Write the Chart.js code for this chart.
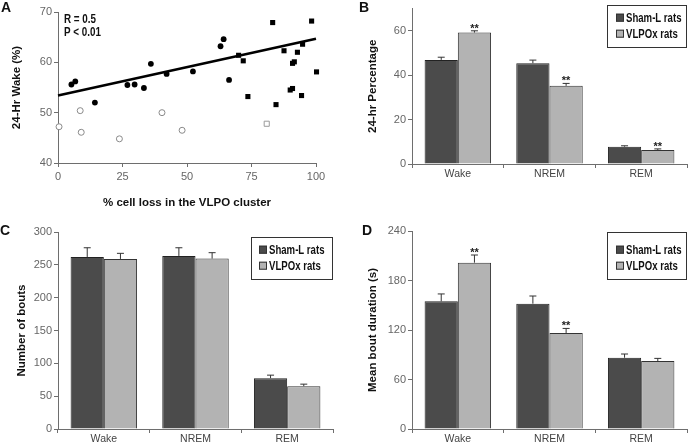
<!DOCTYPE html>
<html>
<head>
<meta charset="utf-8">
<script src="https://cdn.jsdelivr.net/npm/chart.js@4.4.1/dist/chart.umd.min.js"></script>
<style>
body { margin: 0; background: #fff; width: 689px; height: 444px; position: relative; overflow: hidden; }
canvas { position: absolute; }
.letter { position: absolute; font: bold 14px 'Liberation Sans', Arial, sans-serif; color: #111; }
</style>
</head>
<body>
<canvas id="chartA" width="345" height="215" style="left:0;top:0"></canvas>
<canvas id="chartB" width="349" height="215" style="left:340px;top:0"></canvas>
<canvas id="chartC" width="345" height="229" style="left:0;top:215px"></canvas>
<canvas id="chartD" width="349" height="229" style="left:340px;top:215px"></canvas>
<div class="letter" style="left:1px;top:-1px">A</div>
<div class="letter" style="left:359px;top:-1px">B</div>
<div class="letter" style="left:0px;top:222px">C</div>
<div class="letter" style="left:362px;top:222px">D</div>
<script>
// --- Panel A: scatter, % cell loss vs 24-hr wake ---
const lossFilledCircle = [5.2, 6.7, 14.3, 26.9, 29.7, 33.3, 36.0, 42.1, 52.3, 63.0, 64.2, 66.3];
const wakeFilledCircle = [55.6, 56.2, 52.0, 55.5, 55.6, 54.9, 59.7, 57.7, 58.2, 63.2, 64.6, 56.5];
const lossFilledSquare = [70.0, 71.8, 73.6, 83.2, 84.5, 87.6, 90.0, 90.9, 90.9, 91.6, 92.8, 94.8, 94.4, 98.3, 100.2];
const wakeFilledSquare = [61.4, 60.3, 53.2, 67.9, 51.6, 62.3, 54.5, 54.8, 59.8, 60.1, 62.0, 63.6, 53.4, 68.2, 58.1];
const lossOpenCircle = [0.4, 8.6, 9.0, 23.8, 40.3, 48.1];
const wakeOpenCircle = [47.2, 50.4, 46.1, 44.8, 50.0, 46.5];
const lossOpenSquare = [80.9];
const wakeOpenSquare = [47.8];
const fitLoss = [0, 100];
const fitWake = [53.4, 64.7];

// --- Bar panels ---
const stages = ['Wake', 'NREM', 'REM'];
const groupNames = ['Sham-L rats', 'VLPOx rats'];

const pctSham = [46.9, 45.4, 7.8];
const pctShamErr = [1.2, 1.4, 0.4];
const pctVlpo = [59.2, 35.2, 6.3];
const pctVlpoErr = [0.8, 1.1, 0.5];
const pctVlpoStars = ['**', '**', '**'];

const boutsSham = [262, 263.5, 77.4];
const boutsShamErr = [14, 12.5, 4.6];
const boutsVlpo = [259, 259.5, 65.2];
const boutsVlpoErr = [8.5, 9, 3.1];

const durSham = [154.7, 151.9, 86.4];
const durShamErr = [9, 9.3, 4.5];
const durVlpo = [201.6, 116.4, 82.4];
const durVlpoErr = [9.3, 5.5, 3.2];
const durVlpoStars = ['**', '**', ''];

const darkFill = '#4b4b4b';
const lightFill = '#b3b3b3';
const axisGrey = '#6e6e6e';
const titleFont = { family: "'Liberation Sans', Arial, sans-serif", size: 11.5, weight: 'bold' };
const tickFont = { family: "'Liberation Sans', Arial, sans-serif", size: 11 };
const boldSmall = "bold 12px 'Liberation Sans', Arial, sans-serif";

const toPoints = (xs, ys) => xs.map((x, i) => ({ x: x, y: ys[i] }));

// the original uses a condensed face; squeeze text horizontally instead
function narrowText(ctx, text, x, y, squeeze) {
    ctx.save();
    ctx.translate(x, y);
    ctx.scale(squeeze, 1);
    ctx.fillText(text, 0, 0);
    ctx.restore();
}

// error bars (upward only) + significance stars
const errorBars = {
    id: 'errorBars',
    afterDatasetsDraw(chart) {
        const ctx = chart.ctx;
        const yScale = chart.scales.y;
        chart.data.datasets.forEach((ds, i) => {
            if (!ds.errors) return;
            const meta = chart.getDatasetMeta(i);
            meta.data.forEach((bar, j) => {
                const top = yScale.getPixelForValue(ds.data[j] + ds.errors[j]);
                ctx.save();
                ctx.strokeStyle = '#333';
                ctx.lineWidth = 1;
                ctx.beginPath();
                ctx.moveTo(bar.x, bar.y);
                ctx.lineTo(bar.x, top);
                ctx.moveTo(bar.x - 3.5, top);
                ctx.lineTo(bar.x + 3.5, top);
                ctx.stroke();
                if (ds.stars && ds.stars[j]) {
                    ctx.fillStyle = '#222';
                    ctx.font = "bold 11px 'Liberation Sans', Arial, sans-serif";
                    ctx.textAlign = 'center';
                    ctx.textBaseline = 'alphabetic';
                    ctx.fillText(ds.stars[j], bar.x, top + 1);
                }
                ctx.restore();
            });
        });
    }
};

// boxed legend placed inside the plot
const boxLegend = {
    id: 'boxLegend',
    afterDraw(chart, args, opts) {
        if (!opts || !opts.box) return;
        const ctx = chart.ctx;
        const b = opts.box;
        ctx.save();
        ctx.strokeStyle = '#333';
        ctx.lineWidth = 1;
        ctx.strokeRect(b[0] + 0.5, b[1] + 0.5, b[2], b[3]);
        ctx.font = boldSmall;
        ctx.textBaseline = 'middle';
        ctx.textAlign = 'left';
        chart.data.datasets.forEach((ds, i) => {
            const y = opts.rows[i];
            ctx.fillStyle = ds.backgroundColor;
            ctx.fillRect(opts.swatchX, y - 4, 8, 8);
            ctx.strokeRect(opts.swatchX + 0.5, y - 3.5, 7, 7);
            ctx.fillStyle = '#111';
            narrowText(ctx, ds.label, opts.textX, y + 0.5, 0.8);
        });
        ctx.restore();
    }
};

// R / P annotation for the scatter
const statsNote = {
    id: 'statsNote',
    afterDraw(chart) {
        const ctx = chart.ctx;
        ctx.save();
        ctx.fillStyle = '#111';
        ctx.font = boldSmall;
        ctx.textBaseline = 'middle';
        narrowText(ctx, 'R = 0.5', 64, 20, 0.82);
        narrowText(ctx, 'P < 0.01', 64, 33, 0.82);
        ctx.restore();
    }
};

function axisGrid() {
    return { display: true, drawOnChartArea: false, drawTicks: true, tickLength: 4, color: axisGrey };
}

new Chart(document.getElementById('chartA'), {
    type: 'scatter',
    data: {
        datasets: [
            {
                type: 'line', data: toPoints(fitLoss, fitWake), borderColor: '#000', borderWidth: 2.6,
                pointRadius: 0, fill: false, clip: false, order: 0
            },
            {
                data: toPoints(lossFilledCircle, wakeFilledCircle), pointStyle: 'circle', pointRadius: 2.9,
                backgroundColor: '#000', borderColor: '#000', borderWidth: 0, clip: false, order: 1
            },
            {
                data: toPoints(lossFilledSquare, wakeFilledSquare), pointStyle: 'rect', pointRadius: 3.6,
                backgroundColor: '#000', borderColor: '#000', borderWidth: 0, clip: false, order: 1
            },
            {
                data: toPoints(lossOpenCircle, wakeOpenCircle), pointStyle: 'circle', pointRadius: 3,
                backgroundColor: '#fff', borderColor: '#8a8a8a', borderWidth: 1, clip: false, order: 1
            },
            {
                data: toPoints(lossOpenSquare, wakeOpenSquare), pointStyle: 'rect', pointRadius: 3.6,
                backgroundColor: '#fff', borderColor: '#9a9a9a', borderWidth: 1, clip: false, order: 1
            }
        ]
    },
    options: {
        responsive: false,
        animation: false,
        layout: { padding: { left: 0, top: 12, right: 29, bottom: 0 } },
        plugins: { legend: { display: false }, tooltip: { enabled: false } },
        scales: {
            x: {
                type: 'linear', min: 0, max: 100,
                grid: axisGrid(),
                border: { color: axisGrey },
                ticks: { stepSize: 25, color: '#666', font: tickFont, padding: 3 },
                title: { display: true, text: '% cell loss in the VLPO cluster', color: '#111', font: titleFont, padding: { top: 0, bottom: 5 } },
                afterFit: s => { s.height = 52; }
            },
            y: {
                min: 40, max: 70,
                grid: axisGrid(),
                border: { color: axisGrey },
                ticks: { stepSize: 10, color: '#666', font: tickFont, padding: 2 },
                title: { display: true, text: '24-Hr Wake (%)', color: '#111', font: titleFont, padding: { top: 10, bottom: 0 } },
                afterFit: s => { s.width = 58; }
            }
        }
    },
    plugins: [statsNote]
});

function barPanel(id, opt) {
    return new Chart(document.getElementById(id), {
        type: 'bar',
        data: {
            labels: stages,
            datasets: [
                {
                    label: groupNames[0], data: opt.sham, errors: opt.shamErr,
                    backgroundColor: darkFill, borderColor: '#222', borderWidth: 1
                },
                {
                    label: groupNames[1], data: opt.vlpo, errors: opt.vlpoErr, stars: opt.stars,
                    backgroundColor: lightFill, borderColor: '#333', borderWidth: 1
                }
            ]
        },
        options: {
            responsive: false,
            animation: false,
            categoryPercentage: 0.725,
            barPercentage: 1.0,
            layout: { padding: opt.padding },
            plugins: {
                legend: { display: false },
                tooltip: { enabled: false },
                boxLegend: opt.legend
            },
            scales: {
                x: {
                    grid: { display: true, drawOnChartArea: false, drawTicks: true, tickLength: 4, color: axisGrey, offset: true },
                    border: { color: axisGrey },
                    ticks: { color: '#444', font: { family: tickFont.family, size: 10.5 }, padding: 0 },
                    afterFit: s => { s.height = opt.xHeight; }
                },
                y: {
                    min: 0, max: opt.max,
                    grid: axisGrid(),
                    border: { color: axisGrey },
                    ticks: { stepSize: opt.step, color: '#666', font: tickFont, padding: 2 },
                    afterBuildTicks: s => { s.ticks = s.ticks.filter(t => t.value % opt.step === 0); },
                    title: { display: true, text: opt.title, color: '#111', font: titleFont, padding: { top: opt.titlePad, bottom: 0 } },
                    afterFit: s => { s.width = opt.yWidth; }
                }
            }
        },
        plugins: [errorBars, boxLegend]
    });
}

barPanel('chartB', {
    sham: pctSham, shamErr: pctShamErr, vlpo: pctVlpo, vlpoErr: pctVlpoErr, stars: pctVlpoStars,
    max: 70, step: 20, title: '24-hr Percentage', titlePad: 26,
    padding: { left: 0, top: 4, right: 2, bottom: 0 }, xHeight: 51, yWidth: 72,
    legend: { box: [267, 5, 79, 42], rows: [17.7, 33.7], swatchX: 276, textX: 286 }
});

barPanel('chartC', {
    sham: boutsSham, shamErr: boutsShamErr, vlpo: boutsVlpo, vlpoErr: boutsVlpoErr, stars: null,
    max: 300, step: 50, title: 'Number of bouts', titlePad: 15,
    padding: { left: 0, top: 17, right: 12, bottom: 0 }, xHeight: 15, yWidth: 58,
    legend: { box: [251, 22, 81, 42], rows: [34.7, 50.7], swatchX: 259, textX: 269 }
});

barPanel('chartD', {
    sham: durSham, shamErr: durShamErr, vlpo: durVlpo, vlpoErr: durVlpoErr, stars: durVlpoStars,
    max: 240, step: 60, title: 'Mean bout duration (s)', titlePad: 26,
    padding: { left: 0, top: 16, right: 2, bottom: 0 }, xHeight: 15, yWidth: 72,
    legend: { box: [267, 17, 79, 47], rows: [34.7, 50.7], swatchX: 276, textX: 286 }
});
</script>
</body>
</html>
